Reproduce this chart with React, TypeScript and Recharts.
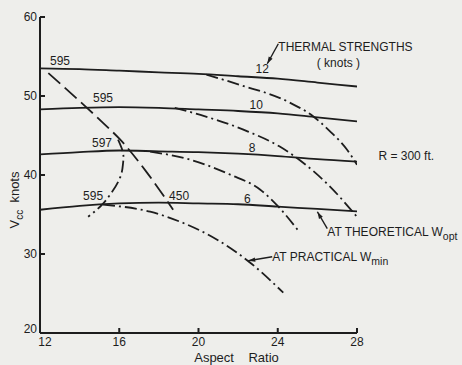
import React from 'react'
import { LineChart, Line, XAxis, YAxis, ReferenceDot, ReferenceLine } from 'recharts'

// thermal strength curves (Vcc, knots) against aspect ratio
const aspectRatios = [12, 14, 16, 18, 20, 22, 24, 26, 28]
const thermal12 = [53.5, 53.4, 53.2, 53.0, 52.8, 52.5, 52.2, 51.7, 51.2]
const thermal10 = [48.3, 48.5, 48.6, 48.5, 48.3, 48.1, 47.8, 47.3, 46.8]
const thermal8 = [42.6, 42.9, 43.1, 43.0, 42.9, 42.7, 42.4, 42.0, 41.7]
const thermal6 = [35.6, 36.1, 36.4, 36.5, 36.4, 36.3, 36.0, 35.7, 35.4]

// dash-dot branches (practical W min)
const branch12X = [20.4, 22.1, 24.5, 25.8, 26.65, 27.5, 28.0]
const branch12Y = [52.7, 51.4, 49.3, 47.4, 45.5, 43.2, 41.3]
const branch10X = [18.8, 20.1, 22.5, 24.1, 25.1, 26.65, 28.0]
const branch10Y = [48.5, 47.6, 45.5, 43.6, 41.9, 38.5, 34.7]
const branch8X = [17.56, 19.43, 21.6, 23.12, 24.03, 25.0]
const branch8Y = [42.95, 42.05, 40.04, 38.14, 35.99, 33.08]
const branch6X = [15.18, 17.56, 19.07, 20.94, 22.61, 24.28]
const branch6Y = [36.24, 35.35, 34.09, 31.81, 28.9, 25.1]

// span line 595 -> 450 (long dashes)
const spanX = [12.42, 14.37, 15.18, 16.04, 17.4, 18.72]
const spanY = [52.9, 48.5, 46.6, 44.5, 40.3, 35.6]

// arc 597 -> 595 (dash-dot)
const arcX = [15.94, 16.19, 16.19, 16.04, 15.54, 15.03, 14.43]
const arcY = [44.47, 42.82, 41.43, 39.66, 37.5, 35.98, 34.71]

const xTicks = [12, 16, 20, 24, 28]
const yTicks = [20, 30, 40, 50, 60]

const toPoints = (xs: number[], ys: number[]) => xs.map((x, i) => ({ x, y: ys[i] }))

const INK = '#1d1d1d'
const FONT = '"Liberation Sans", Arial, sans-serif'
const DASH_DOT = '12 4 2 4'

const notes = [
  { text: '595', x: 13.01, y: 54.47, anchor: 'middle' },
  { text: '595', x: 15.18, y: 49.78, anchor: 'middle' },
  { text: '597', x: 15.13, y: 44.09, anchor: 'middle' },
  { text: '595', x: 14.68, y: 37.38, anchor: 'middle' },
  { text: '450', x: 19.02, y: 37.38, anchor: 'middle' },
  { text: '12', x: 23.22, y: 53.46, anchor: 'middle' },
  { text: '10', x: 22.91, y: 48.9, anchor: 'middle' },
  { text: '8', x: 22.71, y: 43.46, anchor: 'middle' },
  { text: '6', x: 22.46, y: 37.0, anchor: 'middle' },
  { text: 'THERMAL STRENGTHS', x: 24.03, y: 56.24, anchor: 'start' },
  { text: '( knots )', x: 27.06, y: 54.22, anchor: 'middle' },
  { text: 'R = 300 ft.', x: 29.08, y: 42.44, anchor: 'start' },
  { text: 'AT THEORETICAL W', sub: 'opt', x: 26.5, y: 32.82, anchor: 'start' },
  { text: 'AT PRACTICAL W', sub: 'min', x: 23.72, y: 29.66, anchor: 'start' },
]

const leaders = [
  [{ x: 24.03, y: 56.61 }, { x: 23.47, y: 54.08 }],
  [{ x: 26.5, y: 33.2 }, { x: 26.0, y: 35.35 }],
  [{ x: 23.72, y: 29.66 }, { x: 22.51, y: 29.15 }],
]

const Leader = (props: any) => {
  const { x1, y1, x2, y2 } = props
  const ang = Math.atan2(y2 - y1, x2 - x1)
  const bx = x2 - 7 * Math.cos(ang)
  const by = y2 - 7 * Math.sin(ang)
  const px = -Math.sin(ang) * 2.2
  const py = Math.cos(ang) * 2.2
  return (
    <g>
      <line x1={x1} y1={y1} x2={x2} y2={y2} stroke={INK} strokeWidth={1.4} />
      <polygon points={`${x2},${y2} ${bx + px},${by + py} ${bx - px},${by - py}`} fill={INK} />
    </g>
  )
}

const noteLabel = (note: any) => (props: any) => {
  const { x, y } = props.viewBox
  return (
    <text x={x} y={y} dy="0.35em" textAnchor={note.anchor} fill={INK} fontSize={12} fontFamily={FONT}>
      {note.text}
      {note.sub && (
        <tspan dy={4} fontSize={10.5}>
          {note.sub}
        </tspan>
      )}
    </text>
  )
}

// the corner labels sit a little apart in the original
const XTick = (props: any) => {
  const { x, y, payload } = props
  const shift = payload.value === 12 ? 5 : 0
  return (
    <text x={x + shift} y={y} dy="0.71em" textAnchor="middle" fill={INK} fontSize={12} fontFamily={FONT}>
      {payload.value}
    </text>
  )
}

const YTick = (props: any) => {
  const { x, y, payload } = props
  const shift = payload.value === 20 ? -4 : 0
  return (
    <text x={x} y={y + shift} dy="0.35em" textAnchor="end" fill={INK} fontSize={12} fontFamily={FONT}>
      {payload.value}
    </text>
  )
}

const yAxisLabel = () => (
  <text
    x={14}
    y={200}
    transform="rotate(-90, 14, 200)"
    textAnchor="middle"
    dy="0.35em"
    fill={INK}
    fontSize={13}
    fontFamily={FONT}
  >
    V<tspan dy={4} fontSize={10}>cc</tspan>
    <tspan dy={-4}>{'\u00a0\u00a0knots'}</tspan>
  </text>
)

const App = () => {
  const solid = [thermal12, thermal10, thermal8, thermal6]
  const branches = [
    toPoints(branch12X, branch12Y),
    toPoints(branch10X, branch10Y),
    toPoints(branch8X, branch8Y),
    toPoints(branch6X, branch6Y),
  ]

  return (
    <div style={{ position: 'absolute', left: 0, top: 0, width: 462, height: 365, background: '#eeeeeb' }}>
      <LineChart width={462} height={365} margin={{ top: 17, right: 105, bottom: 0, left: 0 }}>
        <XAxis
          type="number"
          dataKey="x"
          domain={[12, 28]}
          ticks={xTicks}
          allowDataOverflow
          height={32}
          tickSize={-5}
          tickMargin={9}
          stroke={INK}
          strokeWidth={2}
          tick={XTick}
          label={{
            value: 'Aspect\u00a0\u00a0\u00a0\u00a0Ratio',
            position: 'insideBottom',
            offset: 3,
            dx: 38,
            fill: INK,
            fontSize: 13,
            fontFamily: FONT,
          }}
        />
        <YAxis
          type="number"
          domain={[20, 60]}
          ticks={yTicks}
          allowDataOverflow
          width={40}
          tickSize={-5}
          tickMargin={8}
          stroke={INK}
          strokeWidth={2}
          tick={YTick}
          label={yAxisLabel}
        />
        {solid.map((vals, i) => (
          <Line
            key={`solid-${i}`}
            data={toPoints(aspectRatios, vals)}
            dataKey="y"
            type="monotone"
            stroke={INK}
            strokeWidth={1.8}
            dot={false}
            activeDot={false}
            isAnimationActive={false}
          />
        ))}
        {branches.map((pts, i) => (
          <Line
            key={`branch-${i}`}
            data={pts}
            dataKey="y"
            type="monotone"
            stroke={INK}
            strokeWidth={1.8}
            strokeDasharray={DASH_DOT}
            dot={false}
            activeDot={false}
            isAnimationActive={false}
          />
        ))}
        <Line
          data={toPoints(spanX, spanY)}
          dataKey="y"
          type="monotone"
          stroke={INK}
          strokeWidth={1.8}
          strokeDasharray="16 6"
          dot={false}
          activeDot={false}
          isAnimationActive={false}
        />
        <Line
          data={toPoints(arcX, arcY)}
          dataKey="y"
          type="natural"
          stroke={INK}
          strokeWidth={1.8}
          strokeDasharray={DASH_DOT}
          dot={false}
          activeDot={false}
          isAnimationActive={false}
        />
        {leaders.map((seg, i) => (
          <ReferenceLine key={`lead-${i}`} segment={seg} ifOverflow="visible" shape={Leader} />
        ))}
        {notes.map((n, i) => (
          <ReferenceDot
            key={`note-${i}`}
            x={n.x}
            y={n.y}
            r={0}
            fill="none"
            stroke="none"
            ifOverflow="visible"
            label={noteLabel(n)}
          />
        ))}
      </LineChart>
    </div>
  )
}

export default App
